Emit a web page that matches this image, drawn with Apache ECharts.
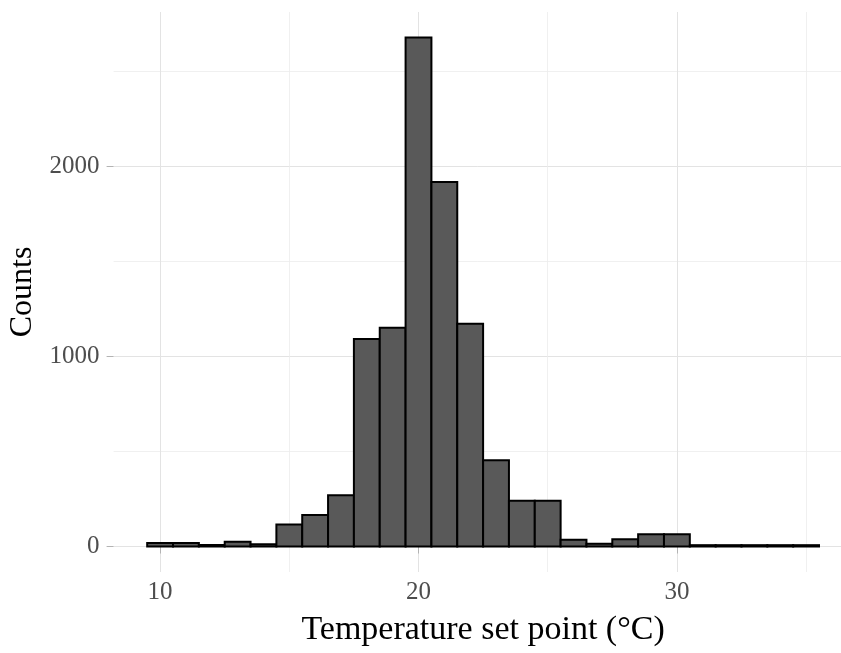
<!DOCTYPE html>
<html><head><meta charset="utf-8">
<script src="https://cdn.jsdelivr.net/npm/echarts@6/dist/echarts.min.js"></script>
<style>html,body{margin:0;padding:0;background:#fff}#c{width:841px;height:653px}</style>
</head><body><div id="c"></div>
<script>
const binCenters = [10,11,12,13,14,15,16,17,18,19,20,21,22,23,24,25,26,27,28,29,30,31,32,33,34,35];
const counts = [18,18,8,25,12,115,165,270,1090,1150,2675,1915,1170,453,240,240,35,15,38,65,65,7,7,7,7,7];
const binWidth = 1;
const xMajorTicks = [10,20,30];
const xMinorTicks = [15,25,35];
const yMajorTicks = [0,1000,2000];
const yMinorTicks = [500,1500,2500];
const xTitle = 'Temperature set point (°C)';
const yTitle = 'Counts';

const FONT = '"Liberation Serif", serif';
const chart = echarts.init(document.getElementById('c'), null, {renderer:'canvas'});
const xRange = {min: 8.2, max: 36.8};
const yRange = {min: -134, max: 2809};

function mkX(vals, major, show){
  return Object.assign({type:'value', gridIndex:0, position:'bottom'}, xRange, {
    show: true,
    axisLine:{show:false},
    axisTick:{show:major, customValues: vals, length:7, lineStyle:{color:'#b3b3b3', width:1}},
    axisLabel:{show:major, customValues: vals, formatter:v=>String(v), color:'#4d4d4d', fontFamily:FONT, fontSize:25, margin:8},
    splitLine:{show:true, lineStyle:{color: major ? '#e3e3e3' : '#ececec', width: major?1:0.8}},
    name: show ? xTitle : '', nameLocation:'middle', nameGap:41,
    nameTextStyle:{color:'#000', fontFamily:FONT, fontSize:34}
  });
}
function mkY(vals, major, show){
  return Object.assign({type:'value', gridIndex:0, position:'left'}, yRange, {
    show: true,
    axisLine:{show:false},
    axisTick:{show:major, customValues: vals, length:7, lineStyle:{color:'#b3b3b3', width:1}},
    axisLabel:{show:major, customValues: vals, formatter:v=>String(v), color:'#4d4d4d', fontFamily:FONT, fontSize:25, margin:14},
    splitLine:{show:true, lineStyle:{color: major ? '#e3e3e3' : '#ececec', width: major?1:0.8}},
    name: show ? yTitle : '', nameLocation:'middle', nameGap:74, nameRotate:90,
    nameTextStyle:{color:'#000', fontFamily:FONT, fontSize:32}
  });
}

const data = binCenters.map((c,i)=>[c, counts[i]]);
chart.setOption({
  animation:false,
  backgroundColor:'#fff',
  grid:{left:113.6, top:12, width:739, height:560, containLabel:false, outerBoundsMode:'none'},
  xAxis:[mkX(xMinorTicks,false,false), mkX(xMajorTicks,true,true)],
  yAxis:[mkY(yMinorTicks,false,false), mkY(yMajorTicks,true,true)],
  series:[{
    type:'custom', xAxisIndex:1, yAxisIndex:1,
    data: data,
    encode:{x:0,y:1},
    renderItem:function(params, api){
      const c = api.value(0), v = api.value(1);
      const p0 = api.coord([c - binWidth/2, 0]);
      const p1 = api.coord([c + binWidth/2, v]);
      return {type:'rect', shape:{x:p0[0], y:p1[1], width:p1[0]-p0[0], height:p0[1]-p1[1]},
        style:{fill:'#595959', stroke:'#000', lineWidth:2}};
    }
  }]
});
</script></body></html>
